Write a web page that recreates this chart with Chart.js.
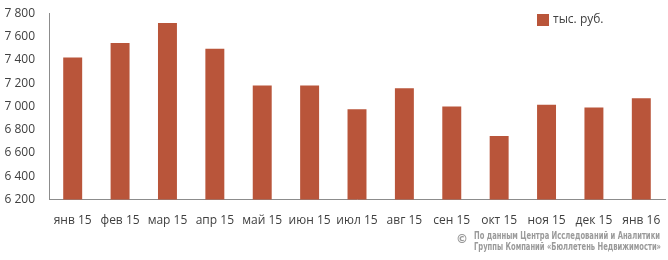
<!DOCTYPE html>
<html>
<head>
<meta charset="utf-8">
<script src="https://cdn.jsdelivr.net/npm/chart.js@4"></script>
<style>
  html, body { margin: 0; padding: 0; background: #fff; }
</style>
</head>
<body>
<canvas id="chart" width="668" height="260"></canvas>
<script>
// months Jan 2015 - Jan 2016
const months = ['янв 15', 'фев 15', 'мар 15', 'апр 15', 'май 15', 'июн 15', 'июл 15',
                'авг 15', 'сен 15', 'окт 15', 'ноя 15', 'дек 15', 'янв 16'];
const prices = [7420, 7545, 7715, 7495, 7180, 7180, 6975, 7155, 7000, 6745, 7015, 6990, 7070];
const seriesName = 'тыс. руб.';
const yMin = 6200, yMax = 7800, yStep = 200;
const sourceLines = ['По данным Центра Исследований и Аналитики',
                     'Группы Компаний «Бюллетень Недвижимости»'];

const barColor = '#b9553a';
const textColor = '#404040';
const axisColor = '#8c8c8c';
const noteColor = '#9a9a9a';

// legend box in the top right corner and the source note under the axis
const extras = {
    id: 'extras',
    afterDraw(chart) {
        const ctx = chart.ctx;
        const ds = chart.data.datasets[0];
        ctx.save();
        ctx.fillStyle = ds.backgroundColor;
        ctx.fillRect(537, 14, 12, 12);
        ctx.fillStyle = textColor;
        ctx.font = '12px "Open Sans"';
        ctx.textBaseline = 'middle';
        ctx.fillText(ds.label, 553, 20);

        ctx.fillStyle = noteColor;
        ctx.font = 'bold 12px "DejaVu Sans"';
        ctx.fillText('©', 456, 240);
        ctx.font = 'bold 10px "DejaVu Sans Condensed", "DejaVu Sans"';
        ctx.fillText(sourceLines[0], 474, 236, 186);
        ctx.fillText(sourceLines[1], 474, 247, 187);
        ctx.restore();
    }
};

new Chart(document.getElementById('chart'), {
    type: 'bar',
    data: {
        labels: months,
        datasets: [{
            label: seriesName,
            data: prices,
            backgroundColor: barColor,
            barPercentage: 0.4,
            categoryPercentage: 1.0
        }]
    },
    options: {
        responsive: false,
        animation: false,
        layout: { padding: { top: -11, right: 3, bottom: 26, left: 0 } },
        plugins: {
            legend: { display: false },
            tooltip: { enabled: false }
        },
        scales: {
            x: {
                grid: { display: false },
                border: { display: true, color: axisColor },
                ticks: {
                    color: textColor, font: { family: 'Open Sans', size: 12 },
                    autoSkip: false, maxRotation: 0, padding: 6
                }
            },
            y: {
                min: yMin, max: yMax,
                grid: { display: false },
                border: { display: true, color: axisColor },
                afterFit: (s) => { s.width = 49; },
                ticks: {
                    stepSize: yStep,
                    color: textColor,
                    padding: 6,
                    font: { family: 'Open Sans', size: 12 },
                    callback: (v) => String(v).replace(/\B(?=(\d{3})+(?!\d))/g, ' ')
                }
            }
        }
    },
    plugins: [extras]
});
</script>
</body>
</html>
